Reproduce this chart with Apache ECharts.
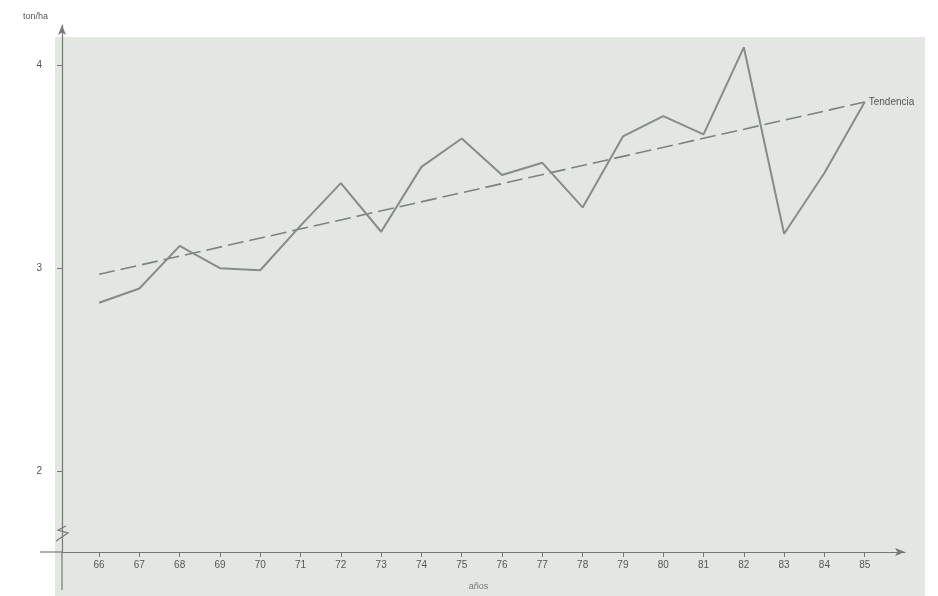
<!DOCTYPE html>
<html>
<head>
<meta charset="utf-8">
<script src="https://cdn.jsdelivr.net/npm/echarts@6/dist/echarts.min.js"></script>
<style>html,body{margin:0;padding:0;background:#fff}#c{width:938px;height:596px}</style>
</head>
<body>
<div id="c"></div>
<script>
var years = [66,67,68,69,70,71,72,73,74,75,76,77,78,79,80,81,82,83,84,85];
var yieldValues = [2.83,2.90,3.11,3.00,2.99,3.21,3.42,3.18,3.50,3.64,3.46,3.52,3.30,3.65,3.75,3.66,4.09,3.17,3.47,3.82];
var trendYears = [66,85];
var trendValues = [2.97,3.82];
var yTicks = [2,3,4];
var trendLabel = 'Tendencia';

var chart = echarts.init(document.getElementById('c'));
var lineData = years.map(function(y,i){return [y, yieldValues[i]];});
var trendData = trendYears.map(function(y,i){return [y, trendValues[i]];});
chart.setOption({
  backgroundColor:'#ffffff',
  animation:false,
  graphic:[
    {type:'rect', z:-10, shape:{x:55,y:37,width:870,height:559}, style:{fill:'#e2e7e2'}},
    {type:'line', z:5, shape:{x1:62,y1:552,x2:62,y2:590}, style:{stroke:'#777',lineWidth:1.2}},
    {type:'line', z:5, shape:{x1:40,y1:552,x2:62,y2:552}, style:{stroke:'#777',lineWidth:1.2}},
    {type:'polyline', z:6, shape:{points:[[56,541],[68,533],[58,530],[66,526]]}, style:{stroke:'#777',fill:null,lineWidth:1.2}}
  ],
  grid:{left:62, right:33, top:25, bottom:44},
  xAxis:{
    type:'value', min:65.08, max:86,
    name:'años', nameLocation:'middle', nameGap:30,
    nameTextStyle:{color:'#777', fontSize:9, fontFamily:'Liberation Sans', padding:[0,0,0,-10]},
    axisLine:{show:true, lineStyle:{color:'#777', width:1.2}, symbol:['none','arrow'], symbolSize:[6,10]},
    axisTick:{show:true, customValues:years, length:5, lineStyle:{color:'#777'}},
    axisLabel:{customValues:years, margin:8, color:'#555', fontSize:10, fontFamily:'Liberation Sans'},
    splitLine:{show:false}
  },
  yAxis:{
    type:'value', min:1.6, max:4.2,
    name:'ton/ha', nameLocation:'end', nameGap:4,
    nameTextStyle:{color:'#555', fontSize:9, fontFamily:'Liberation Sans', align:'right', padding:[0,14,0,0]},
    axisLine:{show:true, lineStyle:{color:'#777', width:1.2}, symbol:['none','arrow'], symbolSize:[6,10]},
    axisTick:{show:true, customValues:yTicks, length:5, lineStyle:{color:'#777'}},
    axisLabel:{customValues:yTicks, margin:20, color:'#555', fontSize:10, fontFamily:'Liberation Sans'},
    splitLine:{show:false}
  },
  series:[
    {type:'line', data:lineData, symbol:'none', lineStyle:{color:'#878c89', width:2}, z:3},
    {type:'line', data:trendData, symbol:'none', lineStyle:{color:'#7d827f', width:1.6, type:[16,6]}, z:2,
     endLabel:{show:true, formatter:trendLabel, distance:4, color:'#555', fontSize:10, fontFamily:'Liberation Sans'}}
  ]
});
</script>
</body>
</html>
